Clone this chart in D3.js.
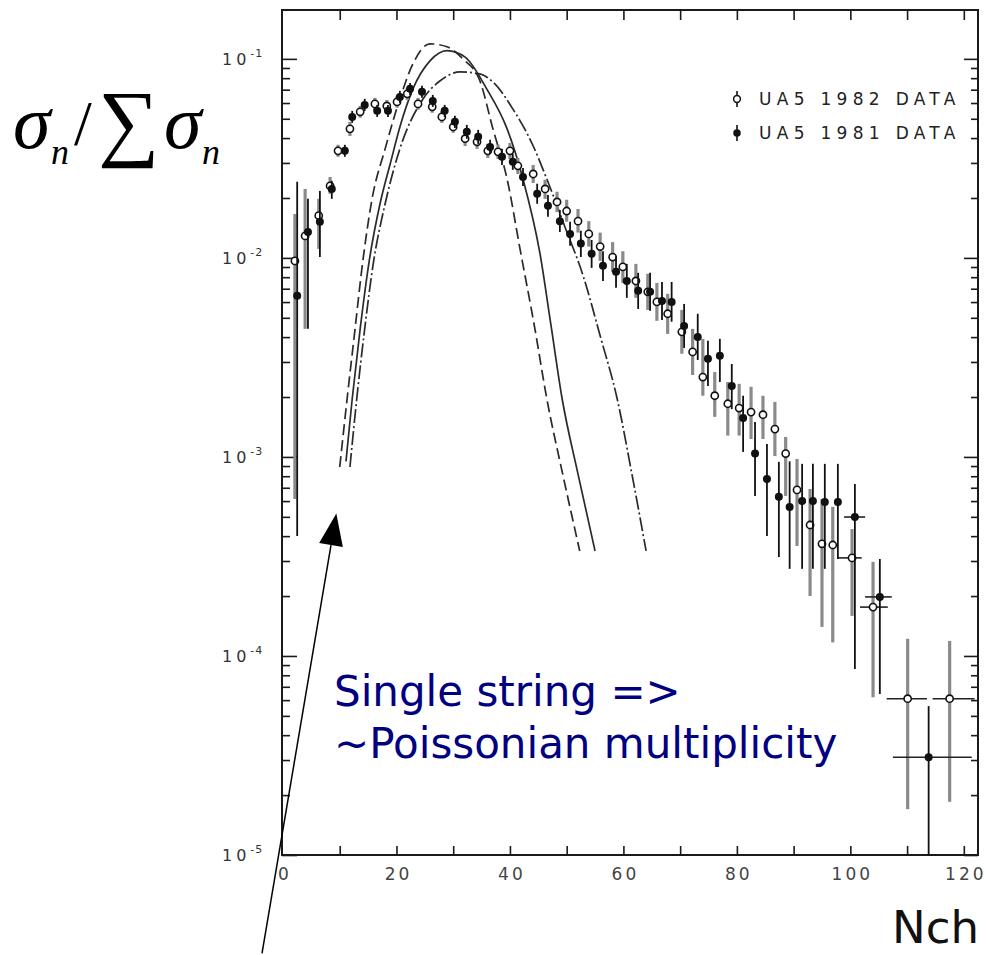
<!DOCTYPE html>
<html>
<head>
<style>
html, body { margin: 0; padding: 0; background: #fff; }
svg { display: block; }
</style>
</head>
<body>
<svg width="986" height="955"></svg>
<script src="https://cdnjs.cloudflare.com/ajax/libs/d3/7.8.5/d3.min.js"></script>
<script>
// UA5 1982 data (open circles)
const n82 = [2.1, 3.9, 6.3, 8.3, 9.7, 11.8, 13.6, 16.2, 18.3, 20.1, 21.9, 23.8, 26.3, 28.0, 30.0, 32.1, 34.2, 36.1, 37.9, 40.0,
  41.4, 44.1, 46.2, 48.3, 50.0, 52.0, 53.9, 55.9, 58.1, 59.9, 62.2, 64.3, 65.9, 67.8, 70.3, 72.2, 74.0, 76.1, 78.4, 80.4,
  82.5, 84.6, 86.7, 88.6, 90.6, 92.9, 95.0, 96.9, 100.3, 104.0, 110.1, 117.5];
const v82 = [0.00966, 0.0129, 0.0163, 0.0230, 0.0345, 0.0445, 0.0542, 0.0594, 0.0580, 0.0608, 0.0667, 0.0594, 0.0574, 0.0511,
  0.0455, 0.0397, 0.0383, 0.0345, 0.0341, 0.0345, 0.0290, 0.0264, 0.0222, 0.0191, 0.0172, 0.0153, 0.0132, 0.0114, 0.0101,
  0.00901, 0.00766, 0.00675, 0.00601, 0.00524, 0.00425, 0.00337, 0.00252, 0.00203, 0.00185, 0.00176, 0.00168, 0.00163,
  0.00138, 0.00104, 0.000683, 0.000455, 0.000366, 0.000361, 0.000311, 0.000176, 6.1e-5, 6.1e-5];
const hi82 = [0.0166, 0.0222, 0.0198, 0.0255, 0.0370, 0.0483, 0.0580, 0.0637, 0.0622, 0.0652, 0.0715, 0.0637, 0.0615, 0.0548,
  0.0488, 0.0430, 0.0415, 0.0374, 0.0370, 0.0378, 0.0318, 0.0293, 0.0247, 0.0215, 0.0196, 0.0176, 0.0153, 0.0134, 0.0120,
  0.0108, 0.00933, 0.00832, 0.00749, 0.00660, 0.00548, 0.00440, 0.00392, 0.00267, 0.00238, 0.00233, 0.00225, 0.00203,
  0.00189, 0.00126, 0.000977, 0.000690, 0.000615, 0.000561, 0.000434, 0.000297, 0.000122, 0.000119];
const lo82 = [0.000615, 0.0044, 0.0111, 0.0210, 0.0322, 0.0410, 0.0506, 0.0555, 0.0542, 0.0568, 0.0622, 0.0555, 0.0536, 0.0477,
  0.0425, 0.0365, 0.0353, 0.0318, 0.0314, 0.0314, 0.0264, 0.0238, 0.0198, 0.0170, 0.0152, 0.0134, 0.0114, 0.00966, 0.00851,
  0.00749, 0.00630, 0.00548, 0.00483, 0.00415, 0.00330, 0.00258, 0.00203, 0.00159, 0.00128, 0.00128, 0.00123, 0.00123,
  0.00101, 0.000637, 0.000357, 0.000200, 0.000140, 0.000117, 0.000159, 6.2e-5, 1.70e-5, 1.85e-5];
// bin widths of the last four 1982 points
const binLo82 = [97.8, 101.7, 106.4, 114.5];
const binHi82 = [102.0, 106.6, 113.5, 121.9];

// UA5 1981 data (filled points)
const n81 = [2.5, 4.4, 6.5, 8.6, 10.9, 12.2, 14.4, 16.6, 18.5, 20.6, 22.4, 24.5, 26.4, 28.5, 30.3, 32.4, 34.4, 36.5, 38.6, 40.5,
  42.3, 44.8, 46.7, 48.8, 50.6, 52.5, 54.4, 56.4, 58.7, 60.6, 62.6, 64.7, 66.8, 68.5, 70.7, 73.1, 74.9, 77.0, 79.1, 81.1,
  83.2, 85.3, 87.4, 89.3, 91.5, 93.4, 95.5, 97.8, 100.8, 105.2, 113.8];
const v81 = [0.00645, 0.0135, 0.0152, 0.0222, 0.0345, 0.0511, 0.0587, 0.0548, 0.0548, 0.0644, 0.0707, 0.0683, 0.0615, 0.0548,
  0.0483, 0.0430, 0.0406, 0.0361, 0.0322, 0.0304, 0.0255, 0.0210, 0.0183, 0.0153, 0.0132, 0.0118, 0.0105, 0.00912, 0.00851,
  0.00766, 0.00683, 0.00675, 0.00608, 0.00601, 0.00455, 0.00401, 0.00311, 0.00322, 0.00227, 0.00157, 0.00104, 0.000775,
  0.000630, 0.000561, 0.000601, 0.000601, 0.000594, 0.000594, 0.000499, 0.000198, 3.1e-5];
const hi81 = [0.0241, 0.0198, 0.0217, 0.0244, 0.0370, 0.0548, 0.0630, 0.0587, 0.0587, 0.0690, 0.0757, 0.0732, 0.0659, 0.0587,
  0.0518, 0.0466, 0.0440, 0.0392, 0.0353, 0.0333, 0.0283, 0.0236, 0.0207, 0.0174, 0.0152, 0.0137, 0.0123, 0.0108, 0.0102,
  0.00933, 0.00841, 0.00841, 0.00757, 0.00757, 0.00587, 0.00524, 0.00383, 0.00392, 0.00293, 0.00203, 0.00150, 0.00116,
  0.000944, 0.00095, 0.000923, 0.000923, 0.000923, 0.000923, 0.000731, 0.000307, 5.6e-5];
const lo81 = [0.000401, 0.0044, 0.0101, 0.0198, 0.0322, 0.0477, 0.0548, 0.0511, 0.0511, 0.0601, 0.0659, 0.0637, 0.0574, 0.0511,
  0.0450, 0.0397, 0.0374, 0.0333, 0.0293, 0.0277, 0.0230, 0.0187, 0.0161, 0.0135, 0.0115, 0.0101, 0.00891, 0.00766, 0.00707,
  0.00630, 0.00554, 0.00542, 0.00488, 0.00478, 0.00353, 0.00307, 0.00227, 0.00238, 0.00174, 0.00106, 0.000637, 0.000401,
  0.000314, 0.000274, 0.000274, 0.000274, 0.000274, 0.000307, 8.6e-5, 6.44e-5, 1e-5];
const binLo81 = [98.9, 102.6, 107.5];
const binHi81 = [102.6, 107.3, 121.4];

// model curves
const dashN = [10.0, 11.3, 12.7, 13.9, 15.7, 18.0, 20.6, 22.9, 25.9, 28.9, 31.7, 34.7, 37.0, 39.5, 41.8, 44.4, 46.5, 49.3, 52.3];
const dashV = [8.9e-4, 0.00196, 0.0044, 0.00881, 0.0198, 0.0353, 0.063, 0.0944, 0.119, 0.115, 0.1, 0.0776, 0.0445, 0.0249,
  0.0110, 0.0044, 0.00196, 0.00082, 0.000337];
const solidN = [11.1, 12.2, 13.6, 15.2, 17.1, 18.9, 20.6, 22.9, 25.9, 28.9, 32.1, 35.9, 39.5, 42.3, 45.3, 47.2, 49.2, 52.0, 55.0];
const solidV = [9.5e-4, 0.00196, 0.0044, 0.00966, 0.0187, 0.0297, 0.0455, 0.0707, 0.0977, 0.110, 0.102, 0.0707, 0.0445, 0.0249,
  0.0105, 0.00466, 0.00196, 0.00082, 0.000337];
const dotN = [11.8, 13.0, 14.4, 15.9, 18.0, 20.6, 24.7, 27.7, 31.2, 34.7, 37.0, 40.5, 44.1, 46.5, 49.7, 52.9, 55.9, 58.9, 61.5, 64.0];
const dotV = [8.9e-4, 0.00196, 0.0044, 0.00933, 0.0187, 0.0353, 0.063, 0.0776, 0.086, 0.084, 0.0766, 0.0561, 0.0365, 0.0249,
  0.0143, 0.00813, 0.00406, 0.00196, 0.00082, 0.000337];

const xTicks = [0, 20, 40, 60, 80, 100, 120];
const yExps = [-1, -2, -3, -4, -5];
const legendLabels = ["UA5 1982 DATA", "UA5 1981 DATA"];

const svg = d3.select("svg");
const x = d3.scaleLinear().domain([0, 122.5]).range([283, 978]);
const y = d3.scaleLog().domain([1e-5, 0.176]).range([855, 10]);
const ink = "#1a1a1a";

// frame
svg.append("rect")
  .attr("x", 282).attr("y", 10).attr("width", 696).attr("height", 845)
  .attr("fill", "none").attr("stroke", ink).attr("stroke-width", 2);

// log ticks on left and right
let major = yExps.map(e => Math.pow(10, e));
let minor = [];
for (let e = -5; e < 0; e++) for (let m = 2; m <= 9; m++) {
  let v = m * Math.pow(10, e);
  if (v < 0.176) minor.push(v);
}
svg.append("g").attr("transform", "translate(282,0)")
  .call(d3.axisRight(y).tickValues(major).tickSize(15).tickFormat(""))
  .call(g => g.select(".domain").remove());
svg.append("g").attr("transform", "translate(282,0)")
  .call(d3.axisRight(y).tickValues(minor).tickSize(8).tickFormat(""))
  .call(g => g.select(".domain").remove());
svg.append("g").attr("transform", "translate(978,0)")
  .call(d3.axisLeft(y).tickValues(major).tickSize(14).tickFormat(""))
  .call(g => g.select(".domain").remove());
svg.append("g").attr("transform", "translate(978,0)")
  .call(d3.axisLeft(y).tickValues(minor).tickSize(7).tickFormat(""))
  .call(g => g.select(".domain").remove());
svg.selectAll(".tick line").attr("stroke", ink).attr("stroke-width", 1.6);

// x ticks, bottom and top
let xt = d3.range(10, 121, 10);
svg.append("g").attr("transform", "translate(0,855)")
  .call(d3.axisTop(x).tickValues(xt).tickSize(9).tickFormat(""))
  .call(g => g.select(".domain").remove())
  .selectAll("line").attr("stroke", ink).attr("stroke-width", 1.6);
svg.append("g").attr("transform", "translate(0,10)")
  .call(d3.axisBottom(x).tickValues(xt).tickSize(10).tickFormat(""))
  .call(g => g.select(".domain").remove())
  .selectAll("line").attr("stroke", ink).attr("stroke-width", 1.6);

// tick labels
svg.append("g").selectAll("text").data(xTicks).join("text")
  .attr("x", d => x(d) + 2).attr("y", 880)
  .attr("text-anchor", "middle")
  .attr("font-family", "DejaVu Sans").attr("font-size", 17)
  .attr("letter-spacing", 3).attr("fill", "#444")
  .text(d => d);

let yl = svg.append("g").selectAll("text").data(yExps).join("text")
  .attr("x", 222).attr("y", d => y(Math.pow(10, d)) + 6)
  .attr("font-family", "DejaVu Sans").attr("font-size", 16)
  .attr("letter-spacing", 4).attr("fill", "#333");
yl.append("tspan").text("10");
yl.append("tspan").attr("dy", -8).attr("font-size", 11).attr("letter-spacing", 1).text(d => d);

// model curves
function drawCurve(ns, vs, dash) {
  let pts = ns.map((n, i) => [n, vs[i]]);
  svg.append("path")
    .attr("d", d3.line().x(d => x(d[0])).y(d => y(d[1])).curve(d3.curveMonotoneX)(pts))
    .attr("fill", "none").attr("stroke", "#2a2a2a").attr("stroke-width", 1.7)
    .attr("stroke-dasharray", dash);
}
drawCurve(dashN, dashV, "11,5");
drawCurve(solidN, solidV, null);
drawCurve(dotN, dotV, "14,3,2,3");

// data points
function drawSeries(ns, vs, los, his, binLo, binHi, open) {
  let g = svg.append("g");
  let barColor = open ? "#8a8a8a" : "#111";
  let off = ns.length - binLo.length;
  ns.forEach((n, i) => {
    g.append("line")
      .attr("x1", x(n)).attr("x2", x(n))
      .attr("y1", y(his[i])).attr("y2", y(Math.max(los[i], 1e-5)))
      .attr("stroke", barColor).attr("stroke-width", open ? 3.2 : 1.8);
    if (i >= off) {
      g.append("line")
        .attr("x1", x(binLo[i - off])).attr("x2", x(binHi[i - off]))
        .attr("y1", y(vs[i])).attr("y2", y(vs[i]))
        .attr("stroke", "#222").attr("stroke-width", 1.6);
    }
  });
  g.selectAll("circle").data(ns).join("circle")
    .attr("cx", d => x(d)).attr("cy", (d, i) => y(vs[i]))
    .attr("r", open ? 3.6 : 3.2)
    .attr("fill", open ? "#fff" : "#111")
    .attr("stroke", "#111").attr("stroke-width", 1.6);
}
drawSeries(n82, v82, lo82, hi82, binLo82, binHi82, true);
drawSeries(n81, v81, lo81, hi81, binLo81, binHi81, false);

// legend
let lg = svg.append("g");
legendLabels.forEach((t, i) => {
  let cy = 99 + i * 34;
  lg.append("line").attr("x1", 737).attr("x2", 737)
    .attr("y1", cy - 8).attr("y2", cy + 8)
    .attr("stroke", "#111").attr("stroke-width", 1.6);
  lg.append("circle").attr("cx", 737).attr("cy", cy).attr("r", i === 0 ? 3.4 : 3)
    .attr("fill", i === 0 ? "#fff" : "#111").attr("stroke", "#111").attr("stroke-width", 1.5);
  lg.append("text").attr("x", 759).attr("y", cy + 6)
    .attr("font-family", "DejaVu Sans").attr("font-size", 17)
    .attr("letter-spacing", 5.3).attr("fill", "#222")
    .text(t);
});

// y-axis title
let serif = "Liberation Serif";
svg.append("text").attr("x", 13).attr("y", 148).attr("font-family", serif)
  .attr("font-style", "italic").attr("font-size", 76).text("σ");
svg.append("text").attr("x", 51).attr("y", 164).attr("font-family", serif)
  .attr("font-style", "italic").attr("font-size", 36).text("n");
svg.append("text").attr("x", 74).attr("y", 145).attr("font-family", serif)
  .attr("font-size", 64).text("/");
svg.append("text").attr("x", 98).attr("y", 150).attr("font-family", serif)
  .attr("font-size", 86).text("∑");
svg.append("text").attr("x", 164).attr("y", 148).attr("font-family", serif)
  .attr("font-style", "italic").attr("font-size", 76).text("σ");
svg.append("text").attr("x", 202).attr("y", 164).attr("font-family", serif)
  .attr("font-style", "italic").attr("font-size", 36).text("n");

// x-axis title
svg.append("text").attr("x", 892).attr("y", 943)
  .attr("font-family", "DejaVu Sans").attr("font-size", 45).attr("fill", "#111")
  .text("Nch");

// annotation
svg.append("text").attr("x", 334).attr("y", 706)
  .attr("font-family", "DejaVu Sans").attr("font-size", 42).attr("fill", "#000080")
  .text("Single string =>");
svg.append("text").attr("x", 334).attr("y", 758)
  .attr("font-family", "DejaVu Sans").attr("font-size", 42).attr("fill", "#000080")
  .text("~Poissonian multiplicity");

// arrow pointing at the low-n end of the curves
let tip = [x(9.4), y(5.2e-4)];
let tail = [x(-3.7), y(3.2e-6)];
let ang = Math.atan2(tip[1] - tail[1], tip[0] - tail[0]);
let hl = 32, hw = 12;
let bx = tip[0] - hl * Math.cos(ang), by = tip[1] - hl * Math.sin(ang);
svg.append("line")
  .attr("x1", tail[0]).attr("y1", tail[1]).attr("x2", bx).attr("y2", by)
  .attr("stroke", "#000").attr("stroke-width", 1.5);
svg.append("path")
  .attr("d", d3.line()([
    tip,
    [bx + hw * Math.sin(ang), by - hw * Math.cos(ang)],
    [bx - hw * Math.sin(ang), by + hw * Math.cos(ang)]
  ]) + "Z")
  .attr("fill", "#000");
</script>
</body>
</html>
